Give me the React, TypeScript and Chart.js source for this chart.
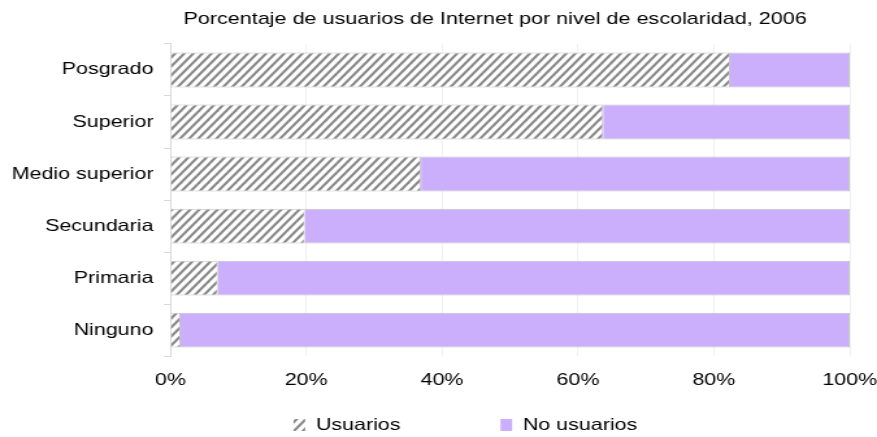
import React, { useEffect, useRef } from "react";
import { Chart, registerables } from "chart.js";

Chart.register(...registerables);

const categories = ["Posgrado", "Superior", "Medio superior", "Secundaria", "Primaria", "Ninguno"];
const usuarios = [82.4, 63.7, 36.9, 19.8, 7.0, 1.5];
const noUsuarios = [17.6, 36.3, 63.1, 80.2, 93.0, 98.5];
const seriesNames = ["Usuarios", "No usuarios"];
const titleText = "Porcentaje de usuarios de Internet por nivel de escolaridad, 2006";
const xTicks = [0, 20, 40, 60, 80, 100];

// the reference is horizontally stretched; draw on a narrower canvas and stretch it with CSS
const SX = 1.3;
const OUT_W = 877;
const OUT_H = 437;
const CW = Math.round(OUT_W / SX);

function makeHatch(): CanvasPattern | string {
  const w = 7;
  const h = 9;
  const t = 2.8;
  const c = document.createElement("canvas");
  c.width = w;
  c.height = h;
  const ctx = c.getContext("2d");
  if (!ctx) return "#888";
  ctx.fillStyle = "#ffffff";
  ctx.fillRect(0, 0, w, h);
  ctx.fillStyle = "#8a8a8a";
  for (const off of [-w, 0, w]) {
    ctx.beginPath();
    ctx.moveTo(off, h);
    ctx.lineTo(off + t, h);
    ctx.lineTo(off + w + t, 0);
    ctx.lineTo(off + w, 0);
    ctx.closePath();
    ctx.fill();
  }
  return ctx.createPattern(c, "repeat") || "#888";
}

export default function App() {
  const ref = useRef<HTMLCanvasElement>(null);
  useEffect(() => {
    if (!ref.current) return;
    const hatch = makeHatch();
    const font = "'Liberation Sans', Arial, sans-serif";
    const trailing = [14, 15];
    const chart = new Chart(ref.current, {
      type: "bar",
      data: {
        labels: categories,
        datasets: [
          {
            label: seriesNames[0],
            data: usuarios,
            backgroundColor: hatch as any,
            borderColor: "#c4c4c4",
            borderWidth: 1,
            barPercentage: 0.67,
            categoryPercentage: 1,
          },
          {
            label: seriesNames[1],
            data: noUsuarios,
            backgroundColor: "#cbaffc",
            borderColor: "#c4c4c4",
            borderWidth: 1,
            barPercentage: 0.67,
            categoryPercentage: 1,
          },
        ],
      },
      options: {
        indexAxis: "y",
        animation: false,
        responsive: false,
        maintainAspectRatio: false,
        layout: { padding: { left: 1, right: 21, top: 0, bottom: 0 } },
        scales: {
          x: {
            stacked: true,
            min: 0,
            max: 100,
            afterBuildTicks: (axis: any) => {
              axis.ticks = xTicks.map((v) => ({ value: v }));
            },
            afterFit: (axis: any) => {
              axis.paddingRight = 0;
            },
            ticks: {
              color: "#000",
              font: { family: font, size: 16.5 },
              padding: 14,
              maxRotation: 0,
              callback: (v: any) => v + "%",
            },
            grid: { color: "#f0f0f0", drawTicks: false },
            border: { display: false },
          },
          y: {
            stacked: true,
            ticks: { color: "#000", font: { family: font, size: 16.5 }, padding: 8 },
            grid: { display: true, offset: true, drawOnChartArea: false, tickLength: 5, color: "#d9d9d9" },
            border: { display: true, color: "#d9d9d9" },
          },
        },
        plugins: {
          title: {
            display: true,
            fullSize: false,
            text: titleText + " ".repeat(5),
            color: "#000",
            font: { family: font, size: 16.6, weight: "normal" },
            padding: { top: 9, bottom: 15 },
          },
          legend: {
            position: "bottom",
            fullSize: false,
            maxHeight: 33,
            labels: {
              color: "#000",
              font: { family: font, size: 16.5 },
              boxWidth: 9,
              boxHeight: 12,
              padding: 12.75,
              generateLabels: (ch: any) => {
                const items = Chart.defaults.plugins.legend.labels.generateLabels(ch);
                return items.map((it: any, i: number) => ({
                  ...it,
                  text: it.text + " ".repeat(trailing[i] || 0),
                  lineWidth: 0,
                }));
              },
            },
          },
          tooltip: { enabled: false },
        },
      },
    });
    return () => chart.destroy();
  }, []);
  return (
    <div style={{ position: "fixed", left: 0, top: 0, width: OUT_W, height: OUT_H, background: "#fff" }}>
      <canvas
        ref={ref}
        width={CW}
        height={OUT_H}
        style={{ display: "block", width: OUT_W + "px", height: OUT_H + "px" }}
      />
    </div>
  );
}
